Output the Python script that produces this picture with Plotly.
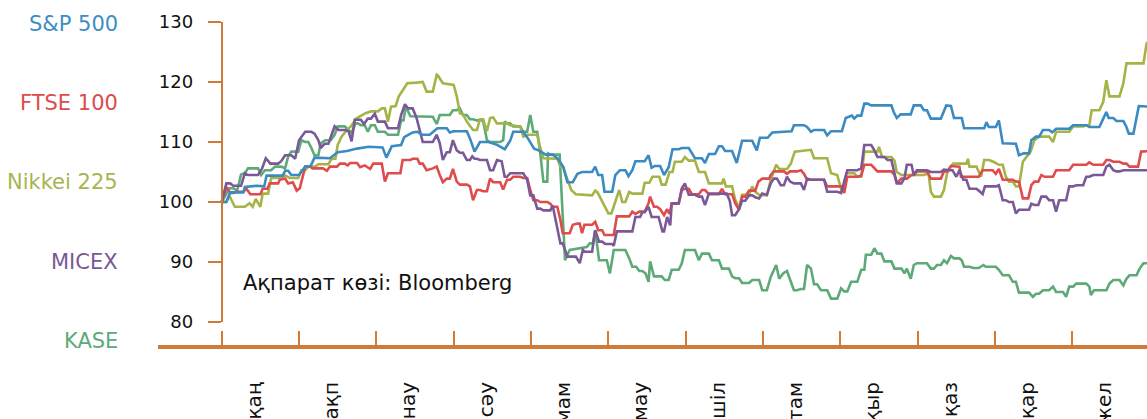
import plotly.graph_objects as go

# ---------------- data ----------------
months = ["қаң", "ақп", "нау", "сәу", "мам", "мау", "шіл", "там", "қыр", "қаз", "қар", "жел"]
series_names = ["S&P 500", "FTSE 100", "Nikkei 225", "MICEX", "KASE"]
y_ticks = [80, 90, 100, 110, 120, 130]
source_text = "Ақпарат көзі: Bloomberg"

# [time in months from 1 Jan, index value (start = 100)]
sp500 = [
    [0, 100], [0.06, 100], [0.11, 101.6], [0.28, 101.6], [0.30, 102.5], [0.45, 102.7], [0.55, 102.6],
    [0.58, 104.4], [0.79, 104.4], [0.82, 105.2], [0.86, 105.2], [0.90, 104.5], [1.00, 104.5], [1.08, 105.9],
    [1.15, 106.0], [1.20, 107.4], [1.40, 107.3], [1.50, 108.3], [1.62, 108.5], [1.75, 108.9], [1.90, 109.2],
    [2.08, 109.1], [2.13, 107.4], [2.20, 109.3], [2.32, 109.5], [2.36, 110.8], [2.47, 111.6], [2.53, 111.7],
    [2.60, 111.2], [2.69, 111.2], [2.79, 112.3], [2.91, 112.3], [2.95, 111.6], [3.00, 111.8], [3.17, 111.8],
    [3.21, 110.6], [3.27, 108.4], [3.34, 110.0], [3.45, 110.0], [3.55, 109.6], [3.66, 108.8], [3.73, 110.2],
    [3.77, 111.7], [3.90, 111.7], [3.96, 110.6], [4.04, 108.9], [4.10, 108.6], [4.19, 107.9], [4.28, 107.9],
    [4.35, 107.2], [4.42, 105.8], [4.47, 103.3], [4.54, 103.3], [4.60, 104.7], [4.66, 105.0], [4.79, 105.0],
    [4.83, 105.9], [4.87, 104.5], [4.92, 104.5], [4.95, 101.7], [5.05, 101.7], [5.09, 104.5], [5.15, 105.3],
    [5.22, 105.3], [5.26, 104.3], [5.31, 105.3], [5.35, 106.8], [5.47, 106.8], [5.52, 107.8], [5.56, 105.7],
    [5.60, 106.0], [5.67, 106.0], [5.72, 104.5], [5.78, 105.8], [5.83, 108.8], [5.91, 108.8], [5.95, 109.0],
    [6.04, 109.0], [6.12, 107.3], [6.21, 107.3], [6.25, 106.5], [6.30, 108.0], [6.38, 108.0], [6.43, 109.3],
    [6.47, 109.3], [6.51, 108.5], [6.60, 108.5], [6.66, 106.5], [6.73, 110.2], [6.86, 110.2], [6.92, 108.6],
    [6.96, 110.7], [7.06, 110.7], [7.12, 111.6], [7.37, 111.8], [7.40, 112.8], [7.53, 112.8], [7.57, 112.5],
    [7.62, 111.7], [7.66, 112.0], [7.79, 112.0], [7.83, 111.1], [7.88, 111.8], [8.02, 111.8], [8.07, 114.0],
    [8.15, 114.4], [8.18, 113.9], [8.22, 114.4], [8.27, 114.4], [8.31, 116.4], [8.35, 116.4], [8.40, 116.1],
    [8.66, 116.1], [8.69, 115.0], [8.73, 114.0], [8.78, 114.6], [8.91, 114.6], [8.95, 116.1], [9.04, 116.1],
    [9.08, 115.3], [9.12, 115.3], [9.17, 113.9], [9.30, 113.9], [9.37, 116.1], [9.43, 116.0], [9.47, 114.0],
    [9.57, 114.0], [9.60, 112.3], [9.86, 112.3], [9.89, 113.3], [9.92, 112.5], [10.01, 112.5], [10.05, 113.6],
    [10.10, 109.8], [10.27, 109.7], [10.31, 107.8], [10.37, 108.1], [10.44, 108.1], [10.47, 110.3],
    [10.53, 110.9], [10.57, 110.9], [10.62, 112.0], [10.70, 112.0], [10.74, 111.6], [10.79, 112.2],
    [10.96, 112.2], [11.01, 112.8], [11.18, 112.8], [11.22, 112.5], [11.35, 112.5], [11.40, 113.9],
    [11.44, 115.0], [11.47, 114.0], [11.53, 114.0], [11.57, 113.5], [11.66, 113.5], [11.70, 112.5],
    [11.73, 111.4], [11.79, 111.4], [11.82, 113.5], [11.86, 116.0], [12.00, 115.9],
]

ftse100 = [
    [0, 100], [0.06, 102.5], [0.11, 101.5], [0.15, 101.5], [0.19, 101.7], [0.28, 101.7], [0.32, 102.2],
    [0.37, 101.3], [0.50, 101.3], [0.53, 102.2], [0.59, 102.2], [0.62, 103.1], [0.73, 103.1], [0.75, 103.7],
    [0.82, 103.9], [0.86, 103.1], [0.92, 103.3], [0.97, 101.9], [1.01, 102.3], [1.08, 105.9], [1.14, 105.9],
    [1.18, 105.6], [1.31, 105.6], [1.36, 105.2], [1.40, 105.9], [1.49, 105.9], [1.53, 106.4], [1.59, 106.4],
    [1.63, 106.1], [1.66, 106.5], [1.75, 106.5], [1.79, 105.8], [1.85, 106.1], [1.92, 105.5], [1.96, 106.4],
    [2.07, 106.4], [2.11, 103.4], [2.15, 104.8], [2.31, 104.8], [2.34, 107.0], [2.44, 107.0], [2.47, 107.2],
    [2.53, 107.2], [2.56, 106.4], [2.60, 106.4], [2.65, 105.3], [2.73, 105.6], [2.78, 105.9], [2.82, 104.5],
    [2.86, 103.3], [2.91, 103.9], [2.95, 103.9], [2.99, 105.5], [3.04, 103.4], [3.08, 102.9], [3.17, 102.9],
    [3.21, 102.6], [3.25, 100.3], [3.30, 102.0], [3.34, 102.0], [3.38, 101.8], [3.43, 101.8], [3.47, 103.9],
    [3.51, 103.3], [3.60, 103.3], [3.64, 102.1], [3.69, 103.7], [3.73, 103.7], [3.77, 104.2], [3.86, 104.2],
    [3.90, 104.0], [3.95, 104.0], [3.99, 102.0], [4.03, 100.3], [4.08, 100.3], [4.12, 100.0], [4.21, 100.0],
    [4.25, 99.7], [4.28, 99.2], [4.34, 99.2], [4.38, 97.0], [4.41, 94.8], [4.50, 94.8], [4.54, 96.2],
    [4.60, 96.4], [4.63, 96.4], [4.66, 94.8], [4.69, 96.2], [4.79, 96.2], [4.83, 96.7], [4.87, 95.3],
    [4.92, 95.3], [4.95, 94.5], [5.07, 94.5], [5.11, 97.6], [5.27, 97.6], [5.31, 98.4], [5.35, 98.0],
    [5.40, 98.4], [5.47, 98.4], [5.52, 99.8], [5.54, 100.9], [5.59, 99.2], [5.63, 99.2], [5.67, 98.8],
    [5.72, 97.8], [5.76, 98.8], [5.79, 98.0], [5.82, 99.7], [5.91, 99.7], [5.95, 102.0], [5.99, 102.2],
    [6.04, 102.2], [6.08, 101.3], [6.17, 101.3], [6.21, 102.0], [6.25, 102.0], [6.30, 101.3], [6.43, 101.3],
    [6.47, 102.2], [6.51, 101.3], [6.60, 101.3], [6.64, 99.8], [6.69, 98.7], [6.73, 100.9], [6.77, 100.9],
    [6.82, 101.9], [6.90, 101.9], [6.94, 103.4], [6.99, 103.9], [7.08, 103.9], [7.10, 104.5], [7.14, 105.1],
    [7.27, 105.1], [7.31, 104.7], [7.35, 105.1], [7.44, 105.1], [7.49, 105.3], [7.53, 104.7], [7.57, 103.7],
    [7.79, 103.7], [7.83, 102.6], [8.01, 102.6], [8.05, 101.5], [8.09, 104.2], [8.22, 104.2], [8.27, 104.4],
    [8.31, 106.2], [8.40, 106.2], [8.44, 105.7], [8.48, 105.1], [8.66, 105.1], [8.70, 104.5], [8.73, 103.1],
    [8.79, 103.9], [8.86, 103.9], [8.92, 104.5], [8.95, 104.5], [8.99, 105.1], [9.12, 105.1], [9.17, 103.9],
    [9.30, 103.9], [9.34, 105.1], [9.38, 105.1], [9.43, 106.0], [9.54, 105.9], [9.56, 104.2], [9.79, 104.2],
    [9.84, 105.3], [9.97, 105.3], [10.01, 104.7], [10.05, 105.5], [10.10, 103.7], [10.23, 103.7],
    [10.27, 103.4], [10.31, 103.4], [10.36, 100.6], [10.43, 100.6], [10.47, 102.8], [10.51, 103.4],
    [10.56, 103.4], [10.60, 104.5], [10.64, 104.2], [10.75, 104.2], [10.79, 105.3], [10.96, 105.3],
    [11.01, 106.2], [11.18, 106.2], [11.22, 106.6], [11.27, 106.2], [11.40, 106.2], [11.44, 107.0],
    [11.48, 107.0], [11.53, 106.7], [11.61, 106.7], [11.66, 106.4], [11.70, 106.4], [11.74, 105.9],
    [11.85, 105.9], [11.89, 108.4], [12.00, 108.5],
]

nikkei225 = [
    [0, 100], [0.06, 100], [0.10, 101.0], [0.17, 99.2], [0.30, 99.2], [0.36, 99.8], [0.40, 99.2],
    [0.44, 100.5], [0.50, 99.2], [0.53, 101.4], [0.60, 101.4], [0.64, 104.0], [0.77, 104.0], [0.82, 104.4],
    [0.88, 104.0], [0.99, 104.0], [1.03, 105.3], [1.08, 105.3], [1.12, 105.9], [1.21, 105.9], [1.25, 106.3],
    [1.38, 106.3], [1.42, 107.2], [1.47, 107.2], [1.50, 109.5], [1.55, 110.9], [1.62, 112.0], [1.67, 112.6],
    [1.74, 113.9], [1.86, 114.8], [1.93, 115.1], [2.02, 115.1], [2.07, 115.6], [2.11, 115.6], [2.15, 113.4],
    [2.19, 115.9], [2.25, 116.0], [2.29, 117.6], [2.35, 118.8], [2.40, 119.8], [2.52, 119.9], [2.57, 120.0],
    [2.60, 120.0], [2.65, 118.4], [2.73, 118.4], [2.78, 121.2], [2.80, 121.0], [2.86, 119.8], [2.95, 119.6],
    [3.00, 119.5], [3.04, 117.6], [3.08, 114.8], [3.12, 114.6], [3.17, 113.4], [3.25, 112.0], [3.30, 112.0],
    [3.34, 113.8], [3.38, 113.8], [3.43, 111.8], [3.47, 114.0], [3.51, 114.1], [3.56, 113.1], [3.69, 113.1],
    [3.73, 112.8], [3.86, 112.6], [3.90, 110.9], [3.95, 111.2], [4.08, 111.2], [4.12, 109.0], [4.16, 107.3],
    [4.34, 107.2], [4.38, 105.9], [4.41, 105.9], [4.46, 104.0], [4.52, 102.0], [4.58, 101.3], [4.79, 101.1],
    [4.83, 101.9], [4.86, 101.6], [4.92, 100.1], [5.00, 98.1], [5.04, 98.1], [5.09, 100.0], [5.14, 102.0],
    [5.18, 100.0], [5.22, 100.0], [5.27, 101.7], [5.31, 101.4], [5.44, 101.4], [5.47, 103.2], [5.53, 103.2],
    [5.57, 104.2], [5.66, 104.2], [5.69, 102.9], [5.74, 102.9], [5.79, 105.0], [5.83, 105.0], [5.86, 106.7],
    [5.95, 106.7], [5.99, 107.5], [6.04, 106.9], [6.12, 106.9], [6.17, 105.0], [6.25, 105.0], [6.30, 103.1],
    [6.47, 103.1], [6.49, 103.9], [6.52, 102.6], [6.60, 102.6], [6.64, 100.4], [6.69, 99.0], [6.73, 101.2],
    [6.82, 101.2], [6.86, 102.6], [6.90, 101.7], [6.95, 101.2], [7.05, 101.1], [7.10, 103.7], [7.17, 106.2],
    [7.21, 105.5], [7.31, 105.5], [7.36, 106.4], [7.41, 108.4], [7.53, 108.5], [7.62, 108.7], [7.66, 107.3],
    [7.83, 107.3], [7.88, 104.8], [7.96, 104.5], [8.02, 101.7], [8.08, 104.8], [8.18, 104.8], [8.22, 104.2],
    [8.27, 104.2], [8.31, 108.4], [8.48, 108.4], [8.50, 109.2], [8.54, 107.5], [8.66, 107.5], [8.70, 106.9],
    [8.73, 105.0], [8.79, 104.5], [9.08, 104.5], [9.14, 104.8], [9.17, 101.7], [9.21, 100.9], [9.30, 100.9],
    [9.34, 102.0], [9.38, 104.8], [9.43, 105.9], [9.46, 106.4], [9.63, 106.4], [9.65, 107.2], [9.67, 105.9],
    [9.76, 105.9], [9.82, 104.2], [9.86, 107.0], [9.92, 107.0], [9.98, 106.7], [10.05, 106.2], [10.10, 106.2],
    [10.14, 104.2], [10.18, 103.4], [10.23, 103.4], [10.27, 102.6], [10.31, 102.6], [10.36, 106.7],
    [10.46, 108.4], [10.51, 110.3], [10.57, 110.9], [10.70, 110.9], [10.75, 110.0], [10.79, 111.7],
    [10.96, 111.7], [11.01, 112.6], [11.14, 112.6], [11.18, 112.8], [11.22, 112.8], [11.25, 115.3],
    [11.35, 115.3], [11.40, 116.7], [11.44, 120.3], [11.48, 117.6], [11.61, 117.6], [11.66, 119.8],
    [11.70, 123.1], [11.92, 123.1], [11.96, 126.4], [12.00, 127.0],
]

micex = [
    [0, 100], [0.06, 103.1], [0.11, 103.1], [0.15, 102.7], [0.25, 102.7], [0.30, 104.8], [0.34, 104.5],
    [0.47, 104.5], [0.52, 105.5], [0.57, 107.3], [0.63, 106.4], [0.73, 106.4], [0.77, 106.8], [0.82, 107.8],
    [0.90, 107.8], [0.95, 107.2], [1.00, 110.3], [1.08, 111.7], [1.16, 111.7], [1.20, 111.4], [1.25, 110.3],
    [1.28, 109.0], [1.33, 109.7], [1.38, 109.7], [1.42, 111.2], [1.46, 112.6], [1.51, 112.0], [1.60, 112.0],
    [1.64, 111.8], [1.68, 110.1], [1.72, 113.7], [1.80, 113.7], [1.84, 113.0], [1.89, 113.9], [1.93, 113.9],
    [1.98, 114.7], [2.02, 113.4], [2.11, 113.4], [2.15, 112.3], [2.28, 112.3], [2.32, 114.5], [2.37, 116.3],
    [2.41, 115.6], [2.47, 115.6], [2.52, 114.0], [2.56, 112.2], [2.60, 110.0], [2.73, 110.0], [2.78, 111.2],
    [2.82, 109.8], [2.86, 107.0], [2.91, 108.3], [2.95, 108.3], [2.99, 110.3], [3.04, 108.6], [3.08, 108.2],
    [3.12, 108.2], [3.17, 107.0], [3.21, 107.0], [3.24, 107.6], [3.27, 107.2], [3.30, 107.2], [3.34, 107.0],
    [3.43, 107.0], [3.47, 105.3], [3.51, 105.3], [3.56, 107.0], [3.62, 106.8], [3.66, 104.2], [3.69, 104.2],
    [3.73, 104.8], [3.90, 104.8], [3.95, 103.7], [3.99, 101.1], [4.03, 101.1], [4.08, 98.9], [4.12, 98.9],
    [4.16, 98.6], [4.25, 98.6], [4.28, 99.4], [4.34, 95.9], [4.38, 93.1], [4.41, 93.1], [4.47, 90.9],
    [4.58, 90.9], [4.63, 89.8], [4.67, 92.0], [4.70, 91.7], [4.79, 91.7], [4.83, 95.3], [4.88, 93.4],
    [4.92, 93.4], [4.96, 93.0], [5.05, 93.0], [5.07, 92.7], [5.11, 95.1], [5.31, 95.1], [5.35, 97.5],
    [5.41, 97.5], [5.44, 98.3], [5.47, 98.3], [5.52, 99.2], [5.56, 97.5], [5.65, 97.5], [5.70, 95.1],
    [5.72, 95.1], [5.76, 97.5], [5.80, 96.1], [5.82, 99.8], [5.91, 99.8], [5.95, 102.3], [5.99, 103.1],
    [6.04, 101.2], [6.12, 101.2], [6.17, 100.9], [6.21, 100.9], [6.25, 99.5], [6.30, 101.4], [6.53, 101.4],
    [6.57, 100.2], [6.60, 97.8], [6.64, 97.8], [6.69, 98.8], [6.73, 100.2], [6.77, 100.2], [6.82, 101.1],
    [6.86, 101.1], [6.90, 100.8], [6.95, 100.6], [6.99, 101.4], [7.05, 101.2], [7.10, 103.1], [7.14, 103.9],
    [7.18, 103.9], [7.23, 102.8], [7.27, 102.8], [7.31, 104.2], [7.35, 103.4], [7.40, 103.1], [7.49, 103.1],
    [7.53, 102.0], [7.57, 103.9], [7.62, 103.7], [7.79, 103.7], [7.83, 101.7], [7.96, 101.7], [8.01, 101.5],
    [8.05, 103.4], [8.09, 105.3], [8.22, 105.3], [8.27, 105.6], [8.31, 109.5], [8.40, 109.5], [8.44, 108.6],
    [8.48, 107.5], [8.57, 107.5], [8.61, 107.0], [8.66, 107.0], [8.70, 105.0], [8.73, 103.1], [8.79, 103.1],
    [8.83, 104.0], [8.86, 106.2], [8.92, 106.2], [8.95, 104.5], [8.99, 105.3], [9.12, 105.3], [9.17, 105.0],
    [9.30, 105.0], [9.34, 105.4], [9.40, 105.3], [9.45, 105.3], [9.50, 104.2], [9.54, 105.3], [9.59, 103.7],
    [9.63, 103.7], [9.67, 102.2], [9.76, 102.2], [9.79, 101.9], [9.84, 101.3], [9.87, 102.6], [10.01, 102.6],
    [10.05, 102.8], [10.10, 100.3], [10.14, 100.3], [10.18, 100.0], [10.23, 100.0], [10.27, 98.1],
    [10.31, 98.7], [10.44, 98.7], [10.47, 99.7], [10.51, 99.5], [10.56, 99.5], [10.60, 100.9], [10.66, 100.9],
    [10.70, 100.3], [10.75, 100.3], [10.79, 98.4], [10.83, 100.3], [10.92, 100.3], [10.96, 102.6],
    [11.01, 102.6], [11.05, 102.8], [11.14, 102.8], [11.18, 104.2], [11.22, 104.2], [11.27, 104.5],
    [11.40, 104.5], [11.44, 105.9], [11.48, 106.2], [11.53, 105.3], [11.57, 105.1], [11.61, 105.1],
    [11.66, 105.3], [12.00, 105.3],
]

kase = [
    [0, 100], [0.06, 101.5], [0.10, 102.3], [0.15, 102.3], [0.20, 101.9], [0.25, 104.6], [0.30, 104.8],
    [0.34, 105.6], [0.47, 105.6], [0.51, 104.5], [0.56, 105.3], [0.64, 105.3], [0.69, 105.9], [0.77, 105.9],
    [0.82, 105.6], [0.86, 107.6], [0.90, 108.4], [0.99, 108.4], [1.03, 110.3], [1.08, 110.0], [1.12, 110.0],
    [1.16, 109.0], [1.20, 107.8], [1.25, 107.8], [1.28, 109.8], [1.34, 110.3], [1.41, 110.3], [1.46, 111.2],
    [1.50, 112.6], [1.59, 112.6], [1.64, 112.0], [1.68, 111.5], [1.73, 113.1], [1.76, 113.1], [1.80, 112.8],
    [1.85, 112.8], [1.89, 111.7], [1.93, 112.8], [1.98, 112.8], [2.02, 111.7], [2.11, 111.7], [2.15, 111.2],
    [2.28, 111.2], [2.32, 113.6], [2.35, 113.6], [2.38, 115.9], [2.44, 114.3], [2.56, 114.3], [2.60, 114.2],
    [2.73, 114.2], [2.78, 113.0], [2.82, 114.5], [2.95, 114.5], [2.99, 115.3], [3.04, 115.3], [3.08, 115.6],
    [3.12, 114.5], [3.17, 114.5], [3.21, 113.8], [3.25, 113.8], [3.30, 113.6], [3.38, 113.6], [3.43, 110.3],
    [3.47, 110.0], [3.60, 110.0], [3.64, 110.3], [3.66, 113.4], [3.69, 113.1], [3.73, 113.1], [3.77, 112.6],
    [3.86, 112.6], [3.90, 111.7], [3.95, 111.7], [3.99, 114.5], [4.03, 111.7], [4.08, 111.7], [4.12, 108.1],
    [4.16, 103.4], [4.21, 103.4], [4.22, 108.1], [4.25, 107.9], [4.37, 107.9], [4.41, 97.6], [4.44, 90.3],
    [4.50, 92.0], [4.72, 92.5], [4.76, 93.1], [4.80, 93.1], [4.83, 95.3], [4.88, 90.3], [4.98, 90.3],
    [5.02, 88.1], [5.07, 92.0], [5.22, 92.0], [5.27, 90.6], [5.31, 89.2], [5.36, 89.2], [5.40, 88.5],
    [5.44, 88.5], [5.48, 88.1], [5.52, 86.7], [5.54, 90.1], [5.59, 87.6], [5.69, 87.6], [5.73, 87.0],
    [5.78, 87.0], [5.82, 88.7], [5.91, 88.7], [5.95, 89.8], [5.99, 92.0], [6.12, 92.0], [6.17, 90.3],
    [6.21, 91.4], [6.30, 91.4], [6.34, 90.3], [6.43, 90.3], [6.47, 88.9], [6.56, 88.9], [6.60, 87.6],
    [6.64, 87.3], [6.69, 87.3], [6.73, 86.5], [6.82, 86.5], [6.86, 87.0], [6.95, 87.0], [6.99, 85.3],
    [7.05, 85.3], [7.10, 87.5], [7.17, 89.5], [7.21, 87.2], [7.26, 88.1], [7.31, 88.5], [7.36, 86.7],
    [7.40, 85.3], [7.44, 85.3], [7.49, 85.5], [7.53, 85.5], [7.57, 89.5], [7.62, 88.9], [7.66, 86.3],
    [7.70, 86.3], [7.75, 85.3], [7.83, 85.3], [7.88, 83.9], [7.96, 83.9], [8.01, 85.6], [8.05, 85.1],
    [8.09, 85.1], [8.14, 86.7], [8.22, 86.7], [8.27, 88.7], [8.31, 88.7], [8.33, 91.2], [8.40, 91.2],
    [8.44, 92.3], [8.48, 91.4], [8.53, 91.4], [8.57, 90.1], [8.66, 90.1], [8.70, 88.9], [8.79, 88.9],
    [8.83, 88.1], [8.86, 88.9], [8.91, 87.2], [8.95, 89.5], [8.99, 89.8], [9.12, 89.8], [9.17, 88.9],
    [9.21, 88.9], [9.25, 89.5], [9.30, 89.5], [9.34, 90.3], [9.38, 89.8], [9.43, 91.0], [9.47, 90.6],
    [9.54, 90.6], [9.57, 90.3], [9.60, 89.2], [9.67, 89.2], [9.72, 89.0], [9.79, 89.0], [9.85, 89.5],
    [9.88, 89.2], [10.01, 89.2], [10.05, 88.7], [10.10, 87.8], [10.18, 87.8], [10.23, 86.7], [10.27, 86.7],
    [10.31, 84.9], [10.44, 84.9], [10.49, 84.2], [10.53, 84.7], [10.57, 84.7], [10.62, 85.3], [10.70, 85.3],
    [10.75, 85.9], [10.79, 85.0], [10.88, 85.0], [10.92, 84.2], [10.96, 85.9], [11.01, 85.9], [11.05, 86.4],
    [11.18, 86.4], [11.22, 85.9], [11.24, 84.5], [11.28, 85.3], [11.44, 85.3], [11.48, 86.4], [11.53, 87.0],
    [11.61, 87.0], [11.66, 86.1], [11.70, 87.2], [11.74, 87.8], [11.83, 87.8], [11.87, 88.9], [11.92, 89.8],
    [12.00, 89.8],
]

# ---------------- styling / layout ----------------
series_data = [sp500, ftse100, nikkei225, micex, kase]
line_colors = ["#3B8BC2", "#E04B4B", "#A5B446", "#7B5897", "#5DAA78"]
label_colors = ["#3D8DC3", "#DE4B4B", "#A7B44F", "#7A5895", "#5BAA7A"]
draw_order = [4, 2, 1, 3, 0]
AXIS = "#D07A36"
FONT = "DejaVu Sans"

W, H = 1147, 419
ML, MR, MT, MB = 158, 0, 22, 72
plot_w = W - ML - MR
plot_h = H - MT - MB
x0_px = 221.7
px_per_month = 77.33
y80_px = 322


def px_to_paper_x(px):
    return (px - ML) / plot_w


def px_to_paper_y(py):
    return (H - MB - py) / plot_h


fig = go.Figure()
for idx in draw_order:
    pts = series_data[idx]
    fig.add_trace(go.Scatter(
        x=[p[0] for p in pts], y=[p[1] for p in pts], mode="lines",
        name=series_names[idx], line=dict(color=line_colors[idx], width=2.6),
        showlegend=False, hoverinfo="skip",
    ))

annotations = []
legend_y_px = [24.5, 103, 182, 262, 341]
for name, col, ypx in zip(series_names, label_colors, legend_y_px):
    annotations.append(dict(
        text=name, xref="paper", yref="paper", x=px_to_paper_x(120), y=px_to_paper_y(ypx),
        xanchor="right", yanchor="middle", showarrow=False,
        font=dict(family=FONT, size=21, color=col),
    ))
annotations.append(dict(
    text=source_text, xref="paper", yref="paper", x=px_to_paper_x(241), y=px_to_paper_y(283),
    xanchor="left", yanchor="middle", showarrow=False,
    font=dict(family=FONT, size=21, color="#111111"),
))

fig.update_layout(
    width=W, height=H,
    margin=dict(l=ML, r=MR, t=MT, b=MB, pad=0, autoexpand=False),
    paper_bgcolor="white", plot_bgcolor="white",
    showlegend=False,
    annotations=annotations,
    xaxis=dict(
        range=[-(x0_px - ML) / px_per_month, (W - MR - x0_px) / px_per_month],
        anchor="free", position=0, automargin=False,
        showline=True, linecolor=AXIS, linewidth=4,
        tickmode="array", tickvals=[i + 0.42 for i in range(len(months))], ticktext=months,
        ticks="", tickangle=-90, ticklabelstandoff=25,
        tickfont=dict(family=FONT, size=20, color="#111111"),
        minor=dict(tickmode="array", tickvals=list(range(len(months))), ticks="inside",
                   ticklen=14, tickwidth=2, tickcolor=AXIS, showgrid=False),
        showgrid=False, zeroline=False, fixedrange=True,
    ),
    yaxis=dict(
        range=[y_ticks[0], y_ticks[-1]],
        domain=[(H - MB - y80_px) / plot_h, 1],
        anchor="free", position=px_to_paper_x(x0_px), automargin=False,
        showline=True, linecolor=AXIS, linewidth=2.5,
        tickmode="array", tickvals=y_ticks, ticktext=[str(v) for v in y_ticks],
        ticks="outside", ticklen=13, tickwidth=2, tickcolor=AXIS, ticklabelstandoff=11,
        tickfont=dict(family=FONT, size=18, color="#111111"),
        showgrid=False, zeroline=False, fixedrange=True,
    ),
)

fig.write_html(
    "out.html",
    config={"displayModeBar": False, "staticPlot": True},
    post_script="document.body.style.margin='0';document.body.style.overflow='hidden';",
)
